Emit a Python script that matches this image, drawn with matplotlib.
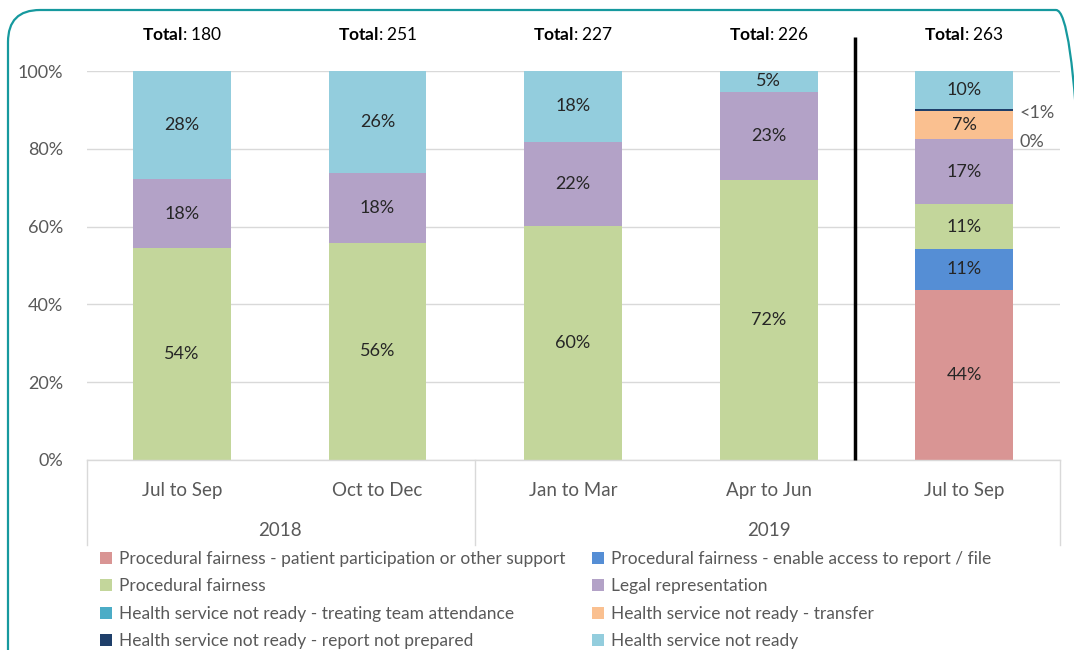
import numpy as np
import matplotlib.pyplot as plt
from matplotlib.patches import FancyBboxPatch, Patch
from matplotlib.transforms import blended_transform_factory

plt.rcParams['font.family'] = ['Lato', 'DejaVu Sans']
plt.rcParams['mathtext.fontset'] = 'custom'
plt.rcParams['mathtext.rm'] = 'Lato'
plt.rcParams['mathtext.bf'] = 'Lato:bold'

# data
quarters = ['Jul to Sep', 'Oct to Dec', 'Jan to Mar', 'Apr to Jun', 'Jul to Sep']
years = ['2018', '2019']
year_span = [(0, 1), (2, 4)]
totals = [180, 251, 227, 226, 263]

series = [
    'Procedural fairness - patient participation or other support',
    'Procedural fairness - enable access to report / file',
    'Procedural fairness',
    'Legal representation',
    'Health service not ready - transfer',
    'Health service not ready - report not prepared',
    'Health service not ready - treating team attendance',
    'Health service not ready',
]
# percent share per quarter, same order as series
patient_part = [0, 0, 0, 0, 43.7]
access_file = [0, 0, 0, 0, 10.6]
proc_fair = [54.4, 55.8, 60.2, 72.1, 11.4]
legal_rep = [17.8, 18.0, 21.6, 22.6, 16.9]
transfer = [0, 0, 0, 0, 7.2]
report_np = [0, 0, 0, 0, 0.4]
team_att = [0, 0, 0, 0, 0]
not_ready = [27.8, 26.2, 18.2, 5.3, 9.8]
values = [patient_part, access_file, proc_fair, legal_rep, transfer, report_np, team_att, not_ready]

colors = ['#D99594', '#558ED5', '#C3D69B', '#B3A2C7', '#FAC090', '#1F3F6A', '#4BACC6', '#93CDDD']

fig = plt.figure(figsize=(10.74, 6.5), dpi=100)
ax = fig.add_axes([87 / 1074, 1 - 460 / 650, 973 / 1074, 389 / 650])

x = np.arange(len(quarters))
bottom = np.zeros(len(quarters))
for name, vals, col in zip(series, values, colors):
    vals = np.array(vals, dtype=float)
    ax.bar(x, vals, 0.5, bottom=bottom, color=col, label=name, zorder=2)
    for i, v in enumerate(vals):
        if v >= 1:
            ax.text(x[i], bottom[i] + v / 2, '%d%%' % round(v), ha='center', va='center',
                    fontsize=13, color='#262626', zorder=3)
    bottom += vals

# labels for tiny / empty segments of the last bar
ax.text(4.285, 89.2, '<1%', ha='left', va='center', fontsize=13, color='#595959')
ax.text(4.285, 81.8, '0%', ha='left', va='center', fontsize=13, color='#595959')

ax.set_xlim(-0.486, 4.49)
ax.set_ylim(0, 100)
ax.set_yticks(np.arange(0, 101, 20))
ax.set_yticklabels(['%d%%' % v for v in range(0, 101, 20)])
ax.tick_params(axis='y', length=0, labelsize=13, labelcolor='#595959', pad=17)
ax.set_xticks([])
ax.grid(axis='y', color='#D9D9D9', linewidth=1, zorder=0)
for s in ['top', 'right', 'left']:
    ax.spines[s].set_visible(False)
ax.spines['bottom'].set_color('#D9D9D9')
ax.spines['bottom'].set_linewidth(1)

# multi-level category axis
tr = blended_transform_factory(ax.transData, ax.transAxes)
for xb in [-0.486, 1.5, 4.49]:
    ax.plot([xb, xb], [0, -0.218], color='#D9D9D9', lw=1, transform=tr, clip_on=False)
for i, q in enumerate(quarters):
    ax.text(x[i], -0.078, q, transform=tr, ha='center', va='center', fontsize=13.5, color='#595959')
for yr, (a, b) in zip(years, year_span):
    ax.text((a + b) / 2, -0.182, yr, transform=tr, ha='center', va='center', fontsize=13.5, color='#595959')

# totals
for i, t in enumerate(totals):
    ax.text(x[i], 1.094, r'$\bf{Total}$: %d' % t, transform=tr, ha='center', va='center',
            fontsize=12.5, color='black')

# separator line
ax.plot([3.44, 3.44], [0, 1.087], color='black', lw=2.5, transform=tr, clip_on=False,
        solid_capstyle='butt', zorder=4)

# legend (row-wise order as in the source)
order = [0, 2, 6, 5, 1, 3, 4, 7]
handles = [Patch(facecolor=colors[k], label=series[k]) for k in order]
fig.legend(handles=handles, ncol=2, loc='upper left', bbox_to_anchor=(100 / 1074, 1 - 551 / 650),
           frameon=False, fontsize=12.5, labelcolor='#595959', handlelength=0.7, handleheight=0.7,
           handletextpad=0.4, columnspacing=1.5, labelspacing=0.66, borderaxespad=0, borderpad=0)

# rounded teal frame
frame = FancyBboxPatch((8, -60), 1080, 700, boxstyle='round,pad=0,rounding_size=32',
                       transform=None, facecolor='none', edgecolor='#16999E', lw=1.6,
                       clip_on=False)
fig.patches.append(frame)

fig.savefig('out.png', dpi=100)
